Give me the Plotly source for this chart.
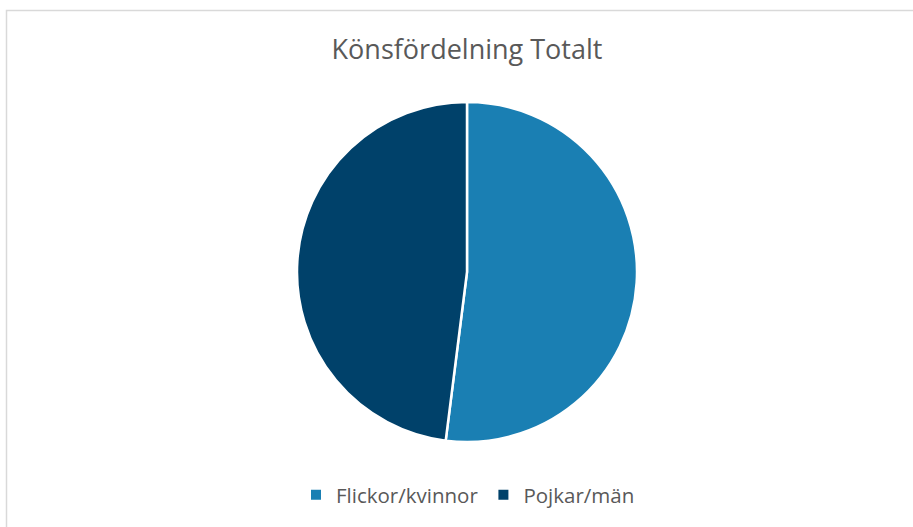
import plotly.graph_objects as go

W, H = 913, 527
labels = ["Flickor/kvinnor", "Pojkar/män"]
values = [52, 48]
colors = ["#1a7fb3", "#00416a"]
title_text = "Könsfördelning Totalt"

cx, cy, r = 467, 272, 170

fig = go.Figure(go.Pie(
    labels=labels, values=values, sort=False, direction="clockwise", rotation=0,
    marker=dict(colors=colors, line=dict(color="white", width=2.5)),
    textinfo="none", hoverinfo="label+percent",
    domain=dict(x=[(cx - r) / W, (cx + r) / W], y=[1 - (cy + r) / H, 1 - (cy - r) / H]),
))

fig.update_layout(
    width=W, height=H, margin=dict(l=0, r=0, t=0, b=0),
    paper_bgcolor="white", plot_bgcolor="white",
    font=dict(family="Open Sans, sans-serif", color="#595959"),
    title=dict(text=title_text, x=467 / W, xanchor="center", y=1 - 50 / H, yanchor="middle",
               font=dict(size=27, color="#595959")),
    showlegend=True,
    legend=dict(orientation="h", x=468 / W, xanchor="center", y=1 - 495 / H, yanchor="middle",
                font=dict(size=20.5, color="#595959"), itemsizing="constant"),
    shapes=[dict(type="rect", xref="paper", yref="paper", x0=6.5 / W, x1=1.02, y0=-0.02, y1=1 - 10.5 / H,
                 line=dict(color="#d9d9d9", width=1.5), fillcolor="rgba(0,0,0,0)")],
)

fig.write_html("out.html", config={"displayModeBar": False},
               post_script="document.body.style.margin='0px';document.body.style.overflow='hidden';")
